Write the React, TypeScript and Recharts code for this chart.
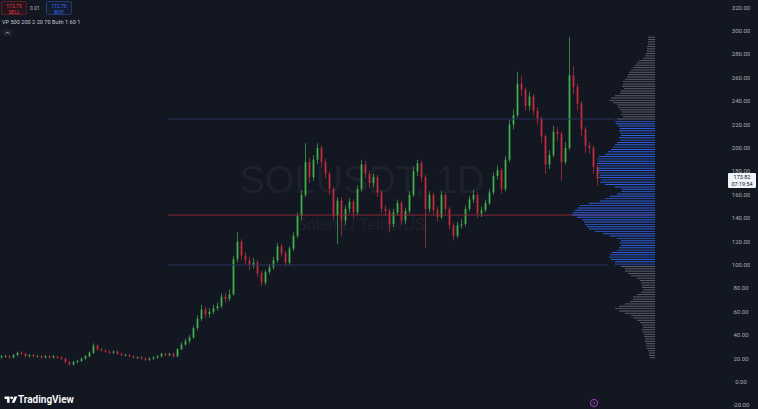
import React from 'react'
import { ComposedChart, BarChart, Bar, XAxis, YAxis, ReferenceLine, Cell } from 'recharts'

const BG = '#131722'
const UP = '#45ad4d'
const DOWN = '#c12c3c'

// daily closes, SOLUSDT (open = previous close)
const firstOpen = 21
const closes = [
  22, 22, 21, 23, 25, 24, 22, 23, 22, 22,
  21, 22, 21, 22, 21, 20, 17, 15, 17, 18,
  20, 22, 25, 31, 28, 27, 26, 25, 26, 24,
  23, 23, 22, 21, 21, 20, 19, 20, 21, 22,
  24, 23, 24, 22, 28, 32, 35, 38, 46, 54,
  62, 58, 60, 63, 65, 73, 71, 75, 105, 120,
  108, 104, 100, 102, 93, 85, 94, 98, 104, 116,
  110, 102, 114, 125, 142, 160, 188, 175, 190, 200,
  188, 178, 165, 142, 155, 138, 148, 154, 145, 165,
  186, 178, 170, 175, 162, 148, 146, 135, 145, 153,
  138, 146, 160, 180, 187, 175, 148, 160, 147, 141,
  160, 148, 134, 125, 134, 135, 148, 156, 160, 144,
  147, 153, 162, 176, 181, 165, 190, 220, 228, 255,
  250, 236, 244, 232, 225, 210, 186, 194, 214, 212,
  188, 200, 262, 252, 238, 216, 202, 200, 184, 173.82,
]
const highs = [
  23, 23, 23, 24, 26, 26, 25, 24, 24, 23,
  23, 23, 23, 23, 22, 22, 21, 18, 18, 19,
  21, 23, 26, 33, 32, 29, 28, 27, 27, 27,
  25, 24, 24, 23, 22, 22, 21, 21, 22, 23,
  25, 25, 25, 25, 29, 34, 37, 40, 48, 57,
  66, 64, 63, 66, 68, 76, 76, 79, 108, 128,
  122, 111, 107, 106, 104, 95, 96, 101, 107, 119,
  118, 112, 116, 128, 145, 164, 204, 192, 194, 204,
  202, 191, 180, 167, 158, 158, 151, 157, 156, 168,
  190, 189, 181, 178, 177, 164, 151, 148, 148, 156,
  155, 149, 163, 184, 190, 189, 177, 163, 162, 150,
  163, 162, 150, 136, 137, 139, 151, 159, 164, 162,
  150, 156, 165, 179, 185, 183, 193, 224, 233, 265,
  262, 252, 248, 246, 235, 227, 212, 198, 219, 218,
  214, 205, 295, 270, 255, 240, 218, 205, 202, 186,
]
const lows = [
  20, 21, 20, 20, 22, 23, 21, 21, 21, 21,
  20, 20, 20, 20, 20, 19, 16, 14, 14, 16,
  17, 19, 21, 24, 27, 26, 25, 24, 24, 23,
  22, 22, 21, 20, 20, 19, 18, 18, 19, 20,
  21, 22, 22, 21, 21, 27, 31, 33, 37, 44,
  52, 55, 55, 58, 61, 63, 68, 69, 74, 102,
  104, 100, 96, 97, 90, 82, 83, 92, 96, 102,
  107, 99, 100, 112, 123, 138, 158, 170, 172, 186,
  184, 174, 160, 138, 118, 125, 134, 144, 140, 143,
  163, 174, 166, 167, 158, 144, 142, 128, 132, 142,
  134, 135, 144, 158, 176, 171, 115, 145, 143, 137,
  139, 144, 130, 121, 123, 131, 133, 146, 153, 140,
  141, 145, 151, 160, 173, 161, 163, 188, 216, 226,
  244, 232, 232, 228, 220, 204, 178, 182, 192, 206,
  172, 186, 198, 246, 232, 210, 196, 195, 178, 168,
]

const priceTicks = [-20, 0, 20, 40, 60, 80, 100, 120, 140, 160, 180, 200, 220, 240, 260, 280, 300, 320]

// volume profile rows, 2 USDT per row, from 295 down to 21
const profileTopBin = 295
const profileStep = 2
const profileVolumes = [
  7, 7, 7, 7, 8, 8, 8, 9, 10, 12,
  16, 18, 20, 22, 24, 26, 27, 28, 30, 32,
  32, 33, 31, 34, 35, 40, 44, 46, 42, 38,
  37, 35, 33, 34, 32, 38, 40, 39, 37, 35,
  36, 35, 34, 36, 35, 38, 40, 42, 44, 47,
  50, 56, 58, 57, 58, 56, 57, 58, 56, 55,
  56, 54, 55, 50, 40, 33, 34, 38, 45, 50,
  55, 66, 75, 77, 80, 82, 83, 78, 73, 71,
  70, 68, 66, 60, 52, 45, 38, 34, 35, 34,
  36, 38, 43, 45, 46, 44, 40, 40, 34, 30,
  30, 27, 24, 18, 15, 14, 13, 13, 12, 14,
  18, 22, 22, 25, 30, 36, 40, 36, 30, 24,
  22, 18, 15, 13, 12, 13, 12, 11, 11, 10,
  10, 9, 9, 8, 7, 6, 6, 5,
]
const valueAreaHigh = 224.8
const valueAreaLow = 100
const pocPrice = 142.7
const lastPrice = 173.82

const candles = closes.map((close, i) => ({
  i,
  open: i === 0 ? firstOpen : closes[i - 1],
  close,
  high: highs[i],
  low: lows[i],
  range: [lows[i], highs[i]],
}))

const profileRows = profileVolumes.map((vol, k) => ({
  bin: profileTopBin - k * profileStep,
  vol,
}))

function Candle(props: any) {
  const { x, y, width, height, payload } = props
  if (!payload) return null
  const { open, close, high, low } = payload
  const color = close >= open ? UP : DOWN
  const top = Math.min(y, y + height)
  const h = Math.abs(height)
  const ppu = h / Math.max(high - low, 0.0001)
  const bTop = top + (high - Math.max(open, close)) * ppu
  const bBot = top + (high - Math.min(open, close)) * ppu
  const cx = x + width / 2
  return (
    <g>
      <line x1={cx} x2={cx} y1={top} y2={top + h} stroke={color} strokeWidth={0.7} />
      <rect x={cx - 0.9} y={bTop} width={1.8} height={Math.max(0.8, bBot - bTop)} fill={color} />
    </g>
  )
}

function PriceTick({ y, payload }: any) {
  return (
    <text x={741} y={y} dy={2} textAnchor="middle" fontSize={6} fill="#a9acb6" fontFamily="Roboto">
      {Number(payload.value).toFixed(2)}
    </text>
  )
}

export default function App() {
  return (
    <div style={{ position: 'absolute', left: 0, top: 0, width: 758, height: 409, background: BG, overflow: 'hidden', fontFamily: 'Roboto' }}>
      {/* watermark */}
      <svg width={758} height={409} style={{ position: 'absolute', left: 0, top: 0 }}>
        <text x={362} y={193} textAnchor="middle" fontSize={38} fontFamily="Liberation Sans" fill="#1d212c">SOLUSDT, 1D</text>
        <text x={361} y={230} textAnchor="middle" fontSize={16} fontFamily="Liberation Sans" fill="#1d212c">Solana / TetherUS</text>
      </svg>

      <div style={{ position: 'absolute', left: 0, top: 0 }}>
        <ComposedChart width={758} height={409} data={candles} margin={{ top: 0, right: 0, bottom: 0, left: 0 }}>
          <XAxis dataKey="i" type="number" domain={[-0.5, 174.5]} hide />
          <YAxis
            orientation="right"
            width={58}
            type="number"
            domain={[-23.08, 326.5]}
            ticks={priceTicks}
            interval={0}
            allowDataOverflow
            axisLine={false}
            tickLine={false}
            tick={<PriceTick />}
          />
          <ReferenceLine segment={[{ x: 41.5, y: valueAreaHigh }, { x: 153.25, y: valueAreaHigh }]} stroke="#27345e" strokeWidth={1} />
          <ReferenceLine segment={[{ x: 41.5, y: valueAreaLow }, { x: 151.5, y: valueAreaLow }]} stroke="#27345e" strokeWidth={1} />
          <Bar dataKey="range" barSize={3} shape={<Candle />} isAnimationActive={false} />
          <ReferenceLine segment={[{ x: 41.5, y: pocPrice }, { x: 163.25, y: pocPrice }]} stroke="#8a2a34" strokeWidth={1} />
        </ComposedChart>
      </div>

      {/* volume profile */}
      <div style={{ position: 'absolute', left: 555, top: 35.68 }}>
        <BarChart width={100} height={322.92} data={profileRows} layout="vertical" margin={{ top: 0, right: 0, bottom: 0, left: 0 }} barCategoryGap="30%">
          <XAxis type="number" domain={[0, 100]} reversed hide />
          <YAxis type="category" dataKey="bin" hide />
          <Bar dataKey="vol" isAnimationActive={false}>
            {profileRows.map((r, k) => (
              <Cell key={k} fill={r.bin > valueAreaLow && r.bin < valueAreaHigh ? '#2f5fdc' : '#5f626c'} />
            ))}
          </Bar>
        </BarChart>
      </div>

      {/* last price label */}
      <div style={{ position: 'absolute', left: 728, top: 173, width: 28, height: 14, background: '#f0f3fa', borderRadius: 1, color: '#131722', fontSize: 5.5, lineHeight: '6.5px', textAlign: 'center', paddingTop: 1 }}>
        <div>{lastPrice.toFixed(2)}</div>
        <div>07:19:54</div>
      </div>

      {/* top-left trading widget */}
      <div style={{ position: 'absolute', left: 1, top: 1, width: 26, height: 14, border: '1px solid #5c1c24', background: '#25151c', borderRadius: 2, color: '#e0334a', fontSize: 5, lineHeight: '6px', textAlign: 'center', paddingTop: 1, boxSizing: 'border-box' }}>
        <div>172.75</div>
        <div>SELL</div>
      </div>
      <div style={{ position: 'absolute', left: 30, top: 5, color: '#b2b5be', fontSize: 5 }}>0.01</div>
      <div style={{ position: 'absolute', left: 46, top: 1, width: 26, height: 14, border: '1px solid #23386e', background: '#141c33', borderRadius: 2, color: '#3d6ef0', fontSize: 5, lineHeight: '6px', textAlign: 'center', paddingTop: 1, boxSizing: 'border-box' }}>
        <div>172.76</div>
        <div>BUY</div>
      </div>
      <div style={{ position: 'absolute', left: 2, top: 19, color: '#c3c6ce', fontSize: 5.6, whiteSpace: 'nowrap' }}>VP 500 200 2 20 70 Both 1 60 1</div>
      <svg width={10} height={8} style={{ position: 'absolute', left: 3, top: 29 }}>
        <rect x={0} y={0} width={9} height={7} rx={1} fill="#1e222d" />
        <path d="M3 4.5 L4.5 3 L6 4.5" stroke="#d1d4dc" strokeWidth={0.8} fill="none" />
      </svg>

      {/* TradingView logo */}
      <svg width={16} height={10} viewBox="0 0 36 28" style={{ position: 'absolute', left: 3, top: 395 }}>
        <path d="M14 22H7V11H0V4h14v18zM28 22h-8l7.5-18h8L28 22z" fill="#ffffff" />
        <circle cx={20} cy={8} r={4} fill="#ffffff" />
      </svg>
      <div style={{ position: 'absolute', left: 18, top: 394, color: '#ffffff', fontSize: 10, fontWeight: 600, whiteSpace: 'nowrap', lineHeight: '12px' }}>TradingView</div>

      <svg width={10} height={10} style={{ position: 'absolute', left: 589, top: 398 }}>
        <circle cx={5} cy={5} r={3.6} stroke="#a23fc2" strokeWidth={1} fill="none" />
        <path d="M4 3.5 L6 5 L4 6.5" stroke="#a23fc2" strokeWidth={0.8} fill="none" />
      </svg>
    </div>
  )
}
